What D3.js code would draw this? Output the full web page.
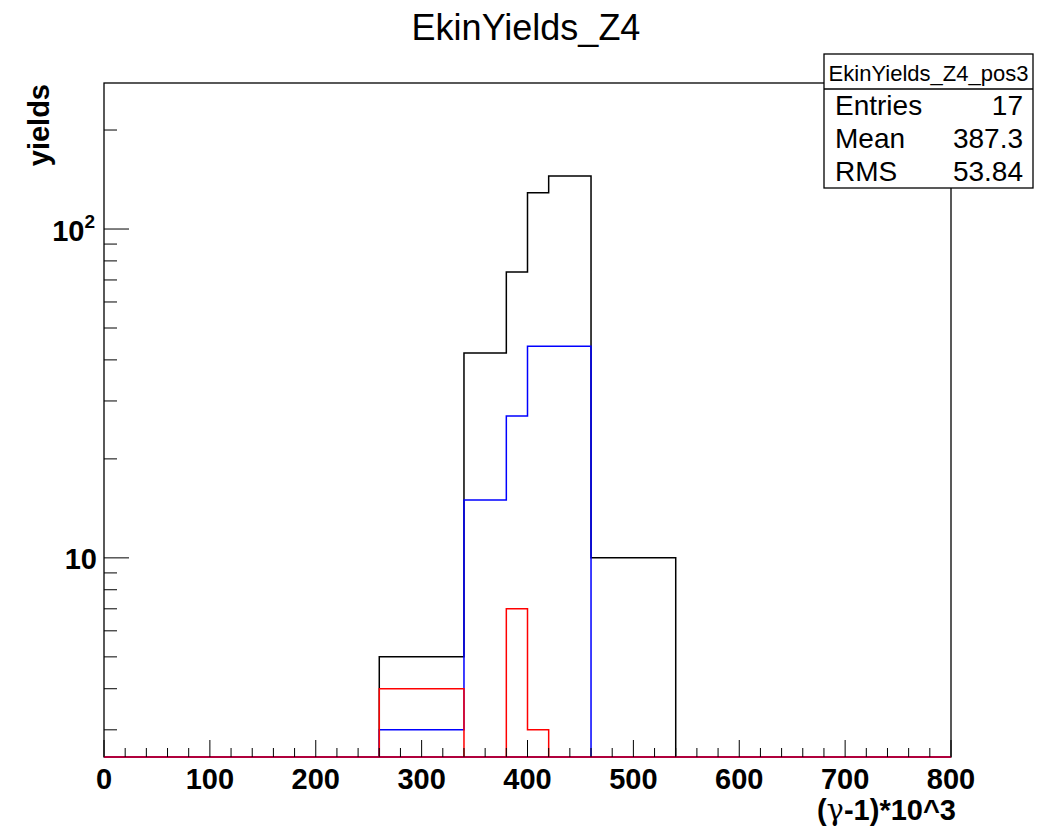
<!DOCTYPE html>
<html>
<head>
<meta charset="utf-8">
<script src="https://cdnjs.cloudflare.com/ajax/libs/d3/7.8.5/d3.min.js"></script>
<style>
  body { margin: 0; background: #fff; }
  text { font-family: "Liberation Sans", Arial, Helvetica, sans-serif; }
</style>
</head>
<body>
<div class="chart"></div>
<script>
var width = 1038;
var height = 827;
var frame = { left: 104, right: 951, top: 83, bottom: 757 };

// histogram content, 20-wide bins starting at binStart (everything else is empty)
var binStart = 260;
var binWidth = 20;
var totalYields = [5, 5, 5, 5, 42, 42, 74, 129, 145, 145, 10, 10, 10, 10];
var blueYields  = [3, 3, 3, 3, 15, 15, 27, 44, 44, 44, 0, 0, 0, 0];
var redYields   = [4, 4, 4, 4, 0, 0, 7, 3, 0, 0, 0, 0, 0, 0];

var xTicks = [0, 100, 200, 300, 400, 500, 600, 700, 800];
var yMajor = [10, 100];
var yMinor = [3, 4, 5, 6, 7, 8, 9, 20, 30, 40, 50, 60, 70, 80, 90, 200];

var statTitle = "EkinYields_Z4_pos3";
var statNames = ["Entries", "Mean", "RMS"];
var statValues = ["17", "387.3", "53.84"];

var svg = d3.select(".chart").append("svg").attr("width", width).attr("height", height);

var x = d3.scaleLinear().domain([0, 800]).range([frame.left, frame.right]);
var y = d3.scaleLog().domain([2.48, 278]).range([frame.bottom, frame.top]);

svg.append("clipPath").attr("id", "plotclip")
	.append("rect")
	.attr("x", frame.left).attr("y", frame.top)
	.attr("width", frame.right - frame.left).attr("height", frame.bottom - frame.top);

/* Build a ROOT-like step outline over the full axis range */
function stepPath(values) {
	var floor = y.domain()[0];
	var yv = function(v) { return y(v > 0 ? v : floor); };
	var pts = [[x(0), yv(0)], [x(binStart), yv(0)]];
	for (var i = 0; i < values.length; i++) {
		var lo = binStart + i * binWidth;
		pts.push([x(lo), yv(values[i])]);
		pts.push([x(lo + binWidth), yv(values[i])]);
	}
	var end = binStart + values.length * binWidth;
	pts.push([x(end), yv(0)]);
	pts.push([x(800), yv(0)]);
	return d3.line()(pts);
}

// frame
svg.append("rect")
	.attr("x", frame.left).attr("y", frame.top)
	.attr("width", frame.right - frame.left).attr("height", frame.bottom - frame.top)
	.attr("fill", "none").attr("stroke", "#000").attr("stroke-width", 1.3);

var hists = svg.append("g").attr("clip-path", "url(#plotclip)");
[[totalYields, "#000"], [blueYields, "#0000ff"], [redYields, "#ff0000"]].forEach(function(h) {
	hists.append("path")
		.attr("d", stepPath(h[0]))
		.attr("fill", "none")
		.attr("stroke", h[1])
		.attr("stroke-width", 1.5);
});

// bottom line looks crimson where red overlaps the black axis
svg.append("line")
	.attr("x1", frame.left).attr("x2", frame.right)
	.attr("y1", frame.bottom).attr("y2", frame.bottom)
	.attr("stroke", "#b0003c").attr("stroke-width", 2);

// x ticks
var xt = svg.append("g");
d3.range(0, 801, 20).forEach(function(v) {
	var major = v % 100 == 0;
	xt.append("line")
		.attr("x1", x(v)).attr("x2", x(v))
		.attr("y1", frame.bottom).attr("y2", frame.bottom - (major ? 17 : 9))
		.attr("stroke", "#000").attr("stroke-width", 1);
});
xTicks.forEach(function(v) {
	xt.append("text")
		.attr("x", x(v)).attr("y", 789)
		.attr("text-anchor", "middle")
		.attr("font-size", 29).attr("font-weight", "bold")
		.text(v);
});

// y ticks
var yt = svg.append("g");
yMinor.forEach(function(v) {
	yt.append("line")
		.attr("x1", frame.left).attr("x2", frame.left + 13)
		.attr("y1", y(v)).attr("y2", y(v))
		.attr("stroke", "#000");
});
yMajor.forEach(function(v) {
	yt.append("line")
		.attr("x1", frame.left).attr("x2", frame.left + 25)
		.attr("y1", y(v)).attr("y2", y(v))
		.attr("stroke", "#000");
});
yt.append("text")
	.attr("x", 97).attr("y", y(10) + 11)
	.attr("text-anchor", "end")
	.attr("font-size", 29).attr("font-weight", "bold")
	.text("10");
var lab100 = yt.append("text")
	.attr("x", 95).attr("y", y(100) + 12)
	.attr("text-anchor", "end")
	.attr("font-size", 29).attr("font-weight", "bold");
lab100.append("tspan").text("10");
lab100.append("tspan").attr("font-size", 19).attr("dy", -13).text("2");

// titles
svg.append("text")
	.attr("x", 526).attr("y", 40)
	.attr("text-anchor", "middle")
	.attr("font-size", 36)
	.text("EkinYields_Z4");

var xl = svg.append("text")
	.attr("x", 956).attr("y", 820)
	.attr("text-anchor", "end")
	.attr("font-size", 29).attr("font-weight", "bold");
xl.append("tspan").text("(");
xl.append("tspan").attr("font-weight", "normal").attr("font-family", "'DejaVu Serif', serif").text("\u03b3");
xl.append("tspan").text("-1)*10^3");

svg.append("text")
	.attr("transform", "translate(49,84) rotate(-90)")
	.attr("text-anchor", "end")
	.attr("font-size", 29).attr("font-weight", "bold")
	.text("yields");

// stat box
var box = { x: 824, y: 54, w: 209, h: 134, titleH: 35 };
var sb = svg.append("g");
sb.append("rect")
	.attr("x", box.x).attr("y", box.y).attr("width", box.w).attr("height", box.h)
	.attr("fill", "#fff").attr("stroke", "#000").attr("stroke-width", 1.3);
sb.append("line")
	.attr("x1", box.x).attr("x2", box.x + box.w)
	.attr("y1", box.y + box.titleH).attr("y2", box.y + box.titleH)
	.attr("stroke", "#000").attr("stroke-width", 1.3);
sb.append("text")
	.attr("x", box.x + box.w / 2).attr("y", 81)
	.attr("text-anchor", "middle")
	.attr("font-size", 22)
	.text(statTitle);
var rowY = d3.scalePoint().domain(statNames).range([115, 181]);
statNames.forEach(function(n, i) {
	sb.append("text")
		.attr("x", 835).attr("y", rowY(n))
		.attr("font-size", 28)
		.text(n);
	sb.append("text")
		.attr("x", 1023).attr("y", rowY(n))
		.attr("text-anchor", "end")
		.attr("font-size", 28)
		.text(statValues[i]);
});
</script>
</body>
</html>
